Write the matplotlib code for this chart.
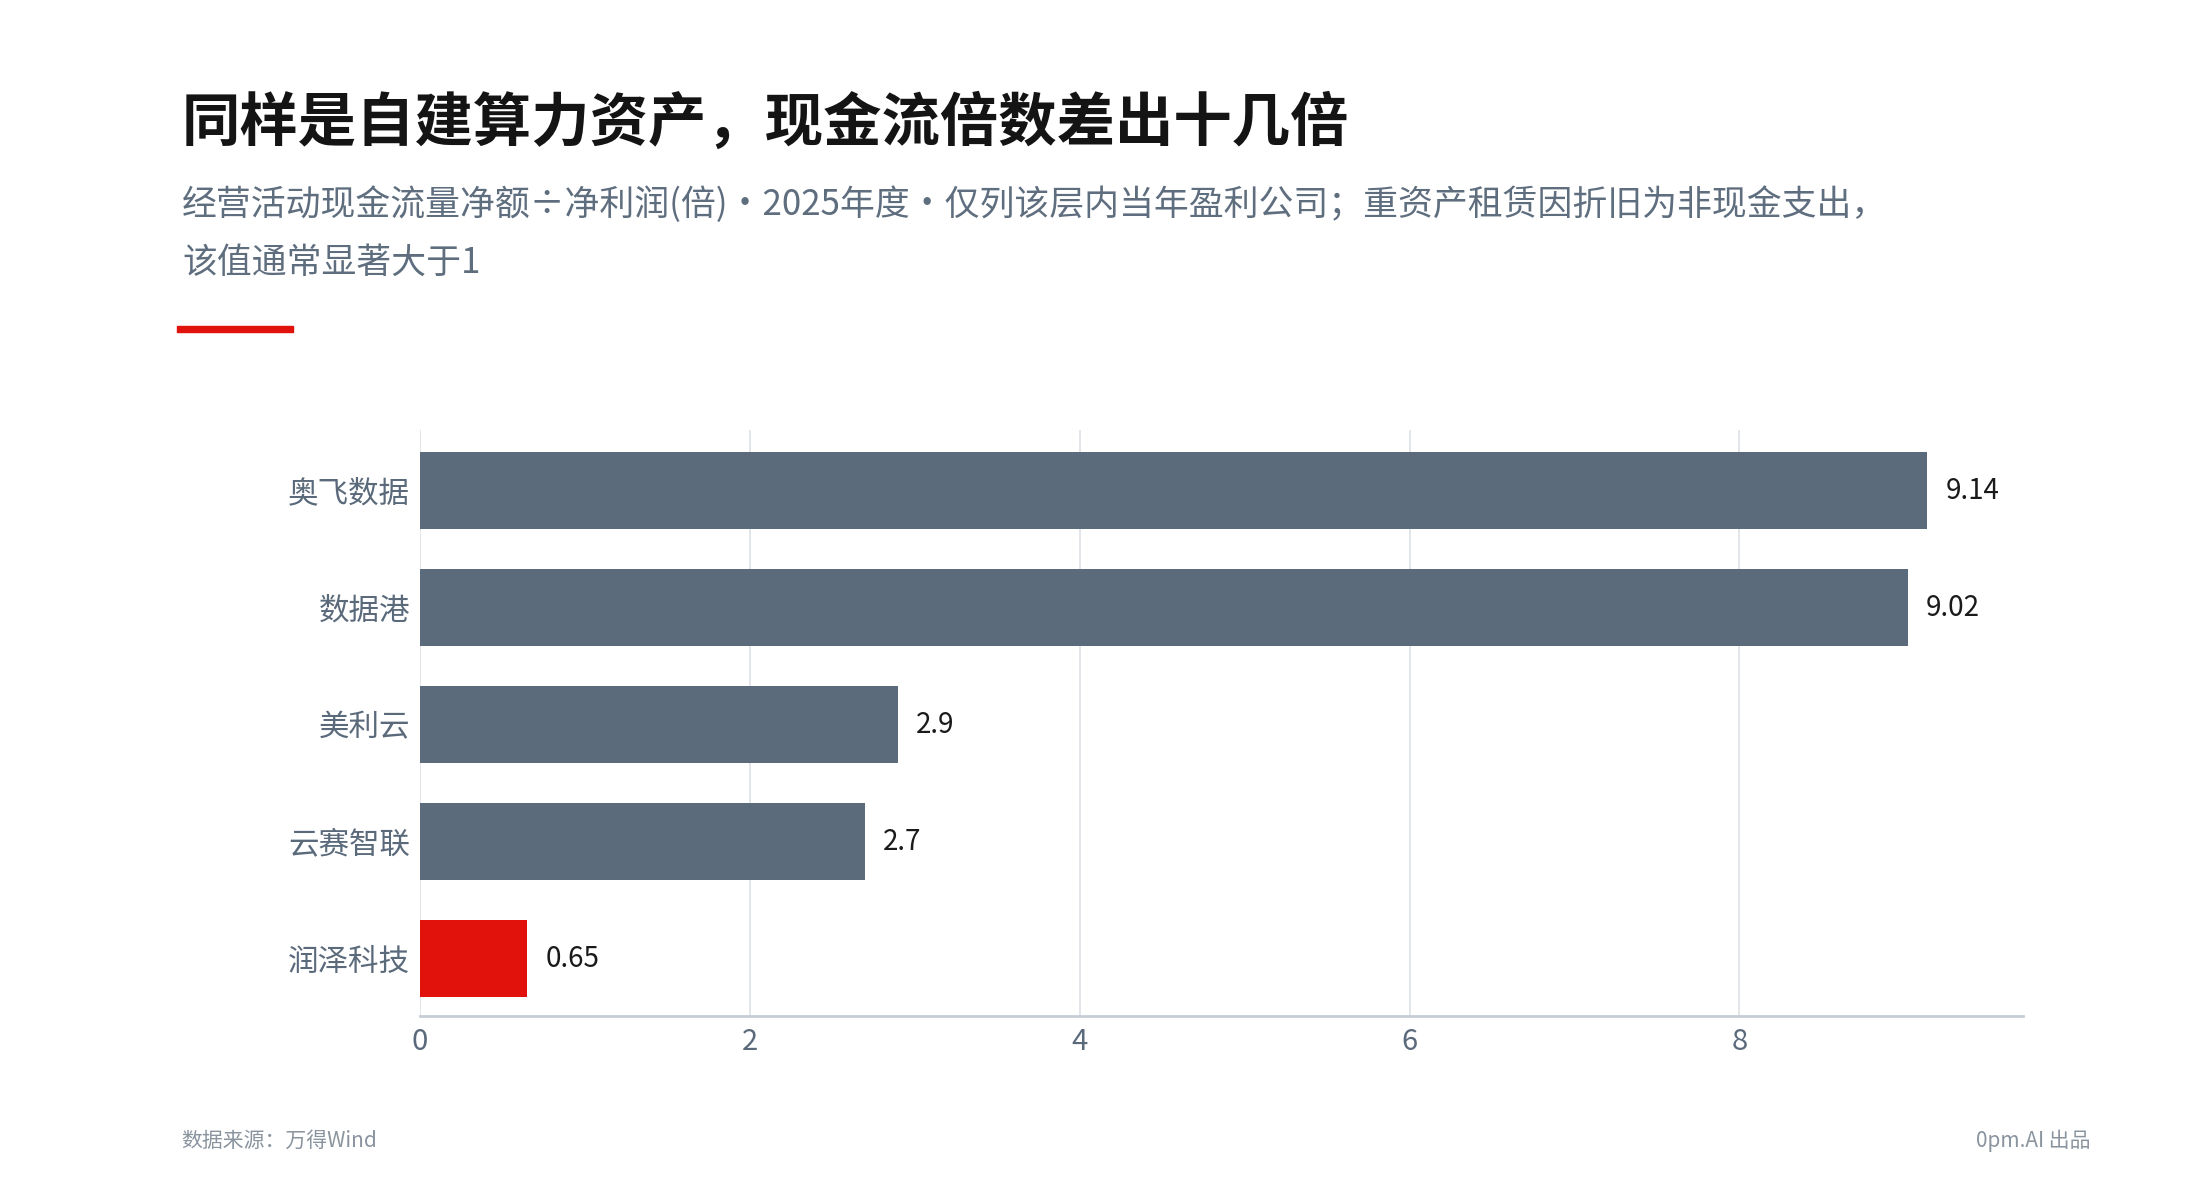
import matplotlib
matplotlib.use("Agg")
import matplotlib.pyplot as plt
from matplotlib.patches import Rectangle

plt.rcParams['font.family'] = ['Noto Sans CJK SC', 'DejaVu Sans']

# 数据
companies = ["奥飞数据", "数据港", "美利云", "云赛智联", "润泽科技"]
ratios = [9.14, 9.02, 2.9, 2.7, 0.65]
value_labels = ["9.14", "9.02", "2.9", "2.7", "0.65"]
highlight = "润泽科技"
x_ticks = [0, 2, 4, 6, 8]

title = "同样是自建算力资产，现金流倍数差出十几倍"
subtitle_1 = "经营活动现金流量净额÷净利润(倍)・2025年度・仅列该层内当年盈利公司；重资产租赁因折旧为非现金支出，"
subtitle_2 = "该值通常显著大于1"
source = "数据来源：万得Wind"
credit = "0pm.AI 出品"

bar_grey = "#5b6b7b"
bar_red = "#e1120c"
axis_grey = "#5a6a7b"

fig = plt.figure(figsize=(22, 12), dpi=100)
fig.patch.set_facecolor("white")

ax = fig.add_axes([420 / 2200, 1 - 1016 / 1200, 1603 / 2200, 586 / 1200])
colors = [bar_red if c == highlight else bar_grey for c in companies]
ypos = list(range(len(companies)))
bars = ax.barh(ypos, ratios, height=0.66, color=colors, zorder=3)

for b, lab in zip(bars, value_labels):
    ax.annotate(lab, (b.get_width(), b.get_y() + b.get_height() / 2),
                xytext=(13, 0), textcoords="offset points",
                va="center", ha="left", fontsize=20, color="#1a1a1a")

ax.set_xlim(0, 9.72)
ax.set_ylim(4.49, -0.517)
ax.set_yticks(ypos)
ax.set_yticklabels(companies)
ax.set_xticks(x_ticks)
ax.set_xticklabels([str(t) for t in x_ticks])
ax.tick_params(axis="both", length=0, colors=axis_grey)
ax.tick_params(axis="x", pad=8, labelsize=21)
ax.tick_params(axis="y", pad=7, labelsize=22)

ax.grid(axis="x", color="#dde1e6", linewidth=1.2, zorder=0)
ax.grid(axis="y", visible=False)
for s in ["top", "right", "left"]:
    ax.spines[s].set_visible(False)
ax.spines["bottom"].set_color("#c6cdd5")
ax.spines["bottom"].set_linewidth(2)
ax.spines["bottom"].set_zorder(4)

fig.text(182 / 2200, 1 - 141 / 1200, title, fontsize=42, fontweight="bold",
         color="#141414", ha="left", va="baseline")
fig.text(182 / 2200, 1 - 215 / 1200, subtitle_1, fontsize=25.1,
         color="#5f6e7e", ha="left", va="baseline")
fig.text(182 / 2200, 1 - 273 / 1200, subtitle_2, fontsize=25.1,
         color="#5f6e7e", ha="left", va="baseline")
fig.patches.append(Rectangle((177 / 2200, 1 - 332 / 1200), 116 / 2200, 6 / 1200,
                             transform=fig.transFigure, color="#e1120c"))

fig.text(181 / 2200, 1 - 1147 / 1200, source, fontsize=15,
         color="#8a949f", ha="left", va="baseline")
fig.text(2090 / 2200, 1 - 1147 / 1200, credit, fontsize=15,
         color="#8a949f", ha="right", va="baseline")

fig.savefig("out.png", dpi=100, facecolor="white")
